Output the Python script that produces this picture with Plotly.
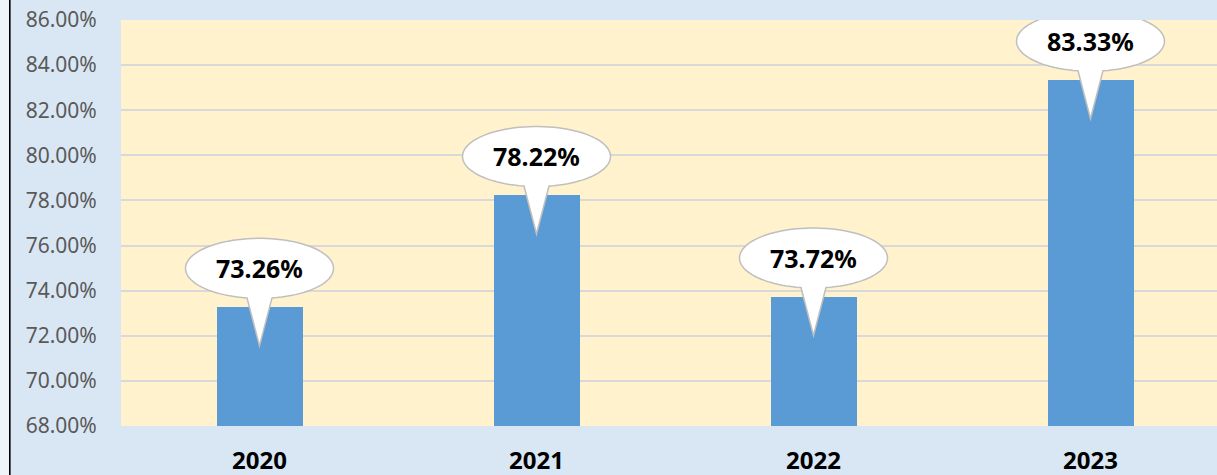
import numpy as np
import plotly.graph_objects as go

years = ["2020", "2021", "2022", "2023"]
rates = [73.26, 78.22, 73.72, 83.33]
y_ticks = [68, 70, 72, 74, 76, 78, 80, 82, 84, 86]

W, H = 1217, 475
ML, MR, MT, MB = 121, 0, 20, 49
PW = W - ML - MR
CAT_PX = 277.0
PX_PER_PCT = (H - MT - MB) / (y_ticks[-1] - y_ticks[0])

xs = list(range(len(years)))

fig = go.Figure()
fig.add_trace(go.Bar(
    x=xs, y=rates, width=86 / CAT_PX,
    marker=dict(color="#5B9BD5", line=dict(width=0)),
    hoverinfo="skip", showlegend=False,
))

# callout geometry (pixels -> data units)
a = 74 / CAT_PX
b = 30 / PX_PER_PCT
c_off = 39 / PX_PER_PCT
tip_off = 38.5 / PX_PER_PCT
half_base = 12.5 / 74.0

shapes = []
annotations = []
th0 = -np.pi / 2 + np.arcsin(half_base)
th1 = -np.pi / 2 - np.arcsin(half_base) + 2 * np.pi
thetas = np.linspace(th0, th1, 90)
for xi, v in zip(xs, rates):
    cy = v + c_off
    pts = [(xi + a * np.cos(t), cy + b * np.sin(t)) for t in thetas]
    path = "M " + " L ".join(f"{px:.5f},{py:.5f}" for px, py in pts)
    path += f" L {xi:.5f},{v - tip_off:.5f} Z"
    shapes.append(dict(type="path", path=path, xref="x", yref="y",
                       fillcolor="white", line=dict(color="#BFBFBF", width=1.5),
                       layer="above"))
    annotations.append(dict(x=xi, y=cy, xref="x", yref="y", text=f"<b>{v:.2f}%</b>",
                            showarrow=False, font=dict(family="Noto Sans", size=25, color="black"),
                            xanchor="center", yanchor="middle"))

def px2paper(p):
    return (p - ML) / PW

shapes.append(dict(type="rect", xref="paper", yref="paper", x0=px2paper(0), x1=px2paper(9),
                   y0=-1, y1=2, fillcolor="#EEF4FA", line=dict(width=0), layer="below"))
shapes.append(dict(type="line", xref="paper", yref="paper", x0=px2paper(9.8), x1=px2paper(9.8),
                   y0=-1, y1=2, line=dict(color="black", width=1.6), layer="above"))

fig.update_layout(
    width=W, height=H,
    margin=dict(l=ML, r=MR, t=MT, b=MB, pad=0, autoexpand=False),
    paper_bgcolor="#D9E7F4",
    plot_bgcolor="#FFF2CC",
    shapes=shapes, annotations=annotations,
    xaxis=dict(range=[-0.5, -0.5 + PW / CAT_PX], tickmode="array", tickvals=xs, ticktext=years,
               tickfont=dict(family="Noto Sans", size=24, color="black", weight="bold"),
               showgrid=False, zeroline=False, showline=False, automargin=False,
               ticks="outside", ticklen=13, tickcolor="rgba(0,0,0,0)", fixedrange=True),
    yaxis=dict(range=[y_ticks[0], y_ticks[-1]], tickmode="array", tickvals=y_ticks,
               ticktext=[f"{t:.2f}%" for t in y_ticks],
               tickfont=dict(family="Noto Sans", size=21, color="#595959"),
               showgrid=True, gridcolor="#D9D9D9", gridwidth=1.5, zeroline=False,
               showline=False, automargin=False, ticks="outside", ticklen=19,
               tickcolor="rgba(0,0,0,0)", fixedrange=True),
    bargap=0,
)

fig.write_html("out.html", config={"displayModeBar": False},
               post_script="document.body.style.margin='0';document.body.style.overflow='hidden';")
